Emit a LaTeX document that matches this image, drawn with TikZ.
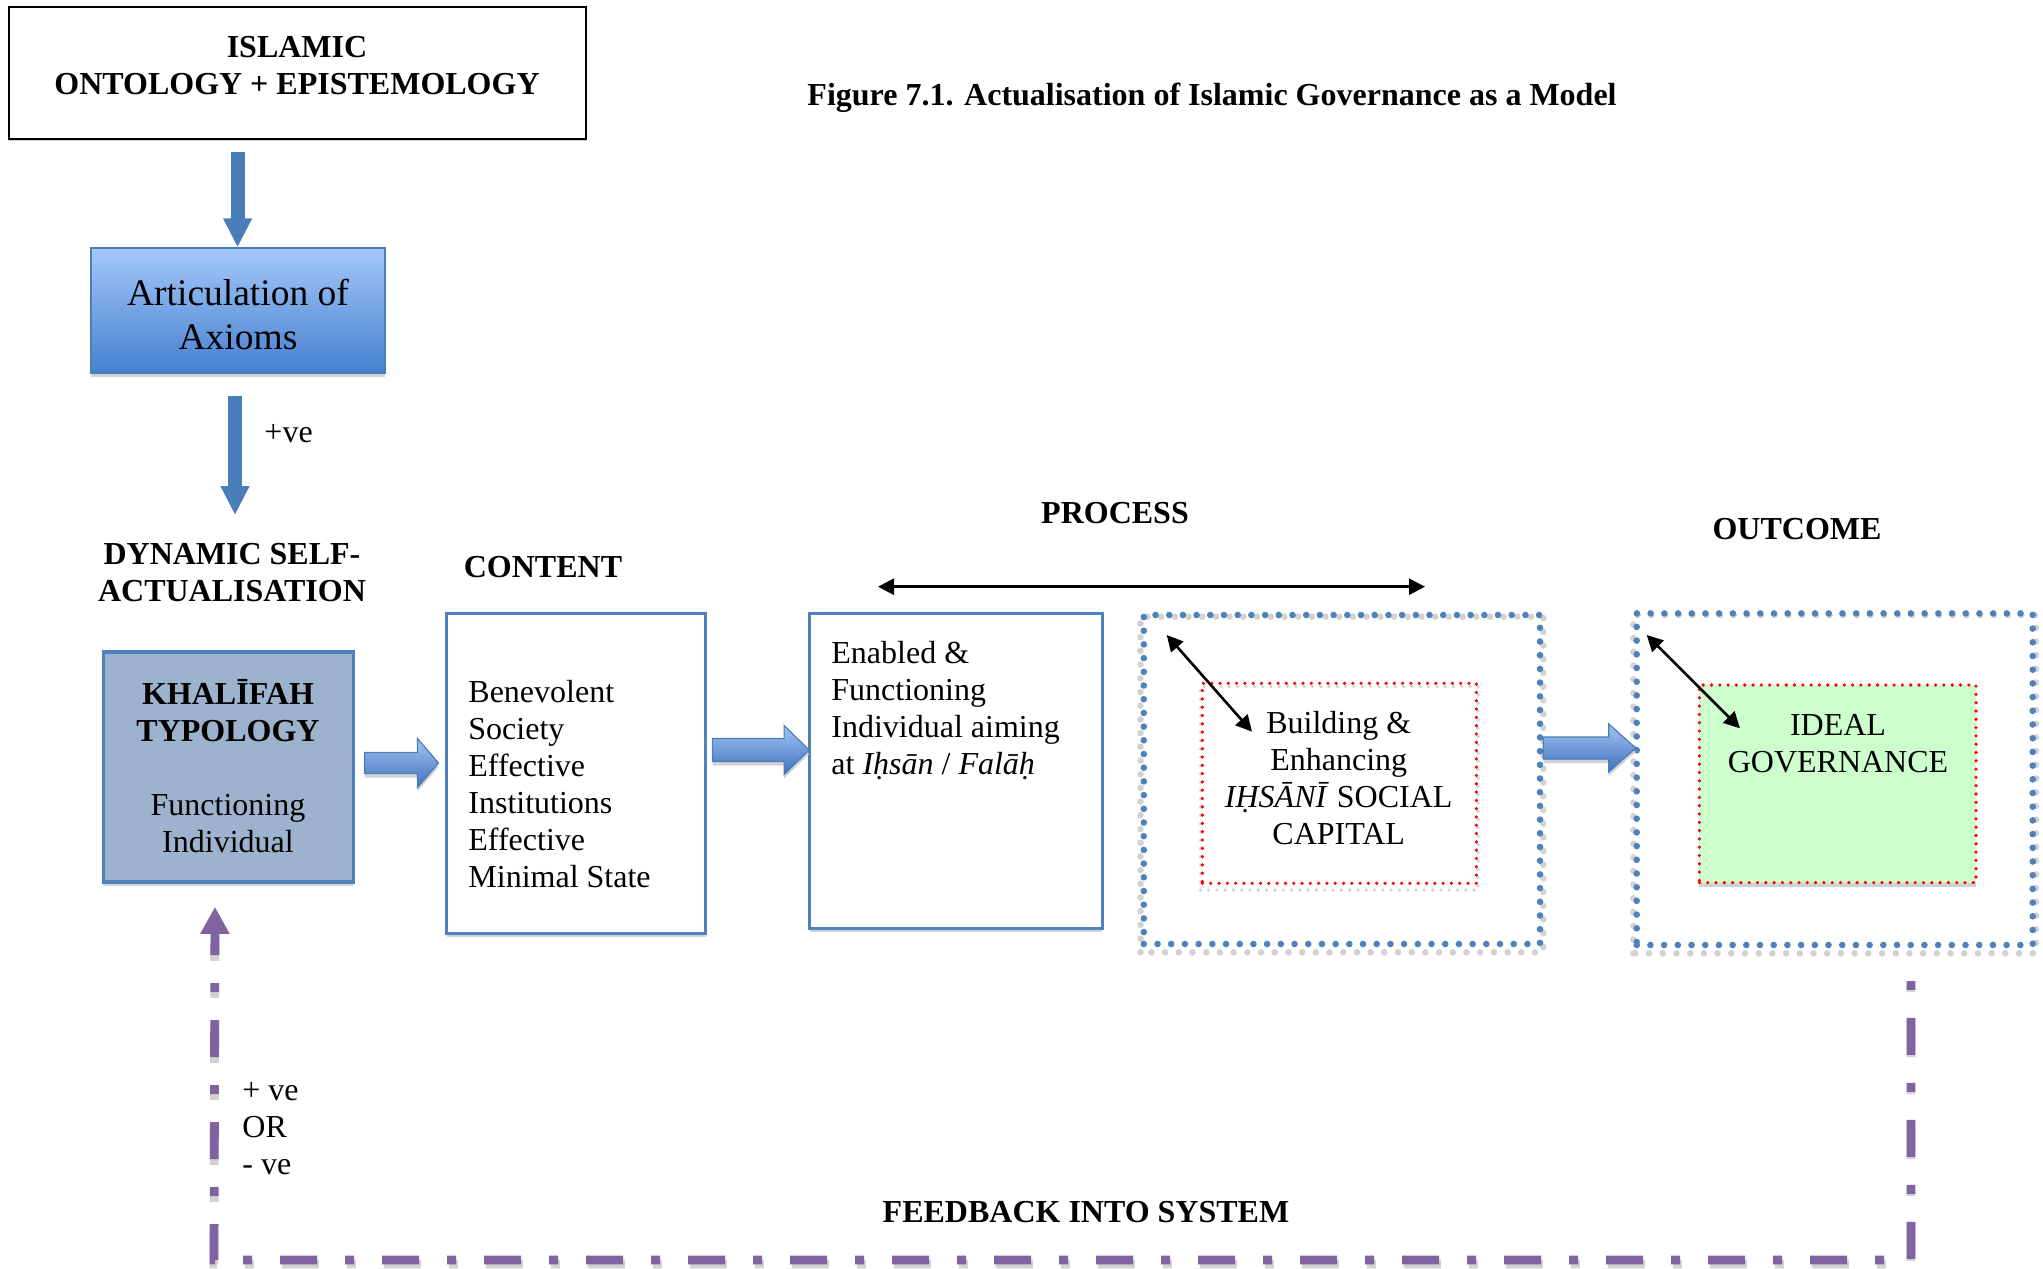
\documentclass[tikz,border=0pt]{standalone}
\usepackage{fontspec}
\setmainfont{Liberation Serif}
\usetikzlibrary{arrows.meta,calc,shadows,backgrounds}
\definecolor{obl}{HTML}{4F81BD}
\definecolor{abl}{HTML}{4A7EBB}
\definecolor{khf}{HTML}{9CB2CD}
\definecolor{pur}{HTML}{8064A2}
\definecolor{grn}{HTML}{CCFFCC}
\definecolor{shd}{HTML}{D2D2D2}
\definecolor{artT}{HTML}{A5C8FA}
\definecolor{artB}{HTML}{4480CE}
\definecolor{arrT}{HTML}{A3C4F0}
\definecolor{arrB}{HTML}{3F72C0}
\newcommand{\blockarrow}[5]{%
  \path[blockarr] ($(#1)+(0,-#3)$) -- ($(#2)+(-#5,-#3)$) -- ($(#2)+(-#5,-#4)$) -- (#2) -- ($(#2)+(-#5,#4)$) -- ($(#2)+(-#5,#3)$) -- ($(#1)+(0,#3)$) -- cycle;}
\begin{document}
\begin{tikzpicture}[x=0.5pt,y=-0.5pt,
  txt/.style={inner sep=0pt, align=center, font={\fontsize{16}{18.5}\selectfont}},
  hd/.style={inner sep=0pt, align=center, font={\fontsize{16}{18.5}\selectfont\bfseries}},
  shadowed/.style={drop shadow={shadow xshift=0pt, shadow yshift=-2pt, opacity=1, fill=shd}},
  sbox/.style={draw=obl, line width=1.5pt, fill=white, inner sep=0pt, shadowed},
  dotbox/.style={draw=obl, line width=3.3pt, line cap=round, dash pattern=on 0pt off 6.85pt, inner sep=0pt},
  dotshd/.style={draw=shd, line width=3.3pt, line cap=round, dash pattern=on 0pt off 6.85pt},
  reddot/.style={draw=red, line width=1.8pt, line cap=round, dash pattern=on 0pt off 4.15pt, inner sep=0pt},
  redshd/.style={draw=shd, line width=1.8pt, line cap=round, dash pattern=on 0pt off 4.15pt},
  vline/.style={draw=abl, line width=7pt, -{Triangle[width=13.5pt,length=14.5pt]}},
  blockarr/.style={draw=abl, line width=0.6pt, top color=arrT, bottom color=arrB, shadowed},
  dbl/.style={line width=1.3pt, {Triangle[width=8pt,length=8pt]}-{Triangle[width=8pt,length=8pt]}},
  fbpat/.style={line width=4.4pt, dash pattern=on 18.5pt off 14pt on 4.5pt off 14pt, dash phase=7pt},
  fb/.style={draw=pur, fbpat, {Triangle[width=13.75pt,length=13.5pt]}-},
]
\useasboundingbox (0,0) rectangle (2043,1268);

% title
\node[hd] (title) at (1212,97.7) {Figure 7.1. Actualisation of Islamic Governance as a Model};

% top box
\node[draw=black, line width=1pt, fill=white, minimum width=288.5pt, minimum height=66.3pt, inner sep=0pt, drop shadow={shadow xshift=0pt, shadow yshift=-1pt, opacity=1, fill=shd}] (onto) at (297,73) {};
\node[hd] (ontot) at (297,66) {ISLAMIC\\ONTOLOGY + EPISTEMOLOGY};

% articulation
\node[draw=abl, line width=1pt, top color=artT, bottom color=artB, minimum width=147pt, minimum height=62.5pt, inner sep=0pt, shadowed] (art) at (237.6,310.8) {};
\node[inner sep=0pt, align=center, font={\fontsize{18.75}{22}\selectfont}] (artt) at (238,314) {Articulation of\\Axioms};

\draw[vline] ($(art.north |- onto.south)+(0,11.4)$) -- (art.north);
\coordinate (a2e) at (235,515);
\draw[vline] ($(art.south)+(-2.6,22)$) -- (a2e);
\node[txt] (pve) at (288.6,434) {+ve};

% dynamic self-actualisation
\node[hd] (dyn) at (232,573) {DYNAMIC SELF-\\ACTUALISATION};
\node[sbox, fill=khf, line width=1.8pt, minimum width=125pt, minimum height=115pt] (kh) at (228.4,766.7) {};
\node[txt] (kht) at (228,766.5) {\textbf{KHALĪFAH}\\\textbf{TYPOLOGY}\\[18.5pt]Functioning\\Individual};

% content
\node[hd] (contl) at (543,566.7) {CONTENT};
\node[sbox, minimum width=129.5pt, minimum height=160pt] (cont) at (576.2,773) {};
\node[txt, align=left, anchor=west] (contt) at (468,784) {Benevolent\\Society\\Effective\\Institutions\\Effective\\Minimal State};

% enabled
\node[sbox, minimum width=146.4pt, minimum height=157.5pt] (enab) at (956,770.8) {};
\node[txt, align=left, anchor=west] (enabt) at (831,711) {Enabled \&\\Functioning\\Individual aiming\\at \textit{Iḥsān} / \textit{Falāḥ}};

% process
\node[hd] (proc) at (1115,513) {PROCESS};
\coordinate (pa) at (878,586.7);
\coordinate (pb) at (1425,586.7);
\draw[dbl] (pa) -- (pb);

\node[dotbox, minimum width=198.1pt, minimum height=164.5pt] (out1) at (1341.9,779.5) {};
\node[reddot, minimum width=137pt, minimum height=100pt] (in1) at (1339.4,783.3) {};
\node[txt] (in1t) at (1338.7,778) {Building \&\\Enhancing\\\textit{IḤSĀNĪ} SOCIAL\\CAPITAL};
\coordinate (d1a) at (1166.7,635);
\coordinate (d1b) at (1252,731.7);
\draw[dbl] (d1a) -- (d1b);

% outcome
\node[hd] (outc) at (1797,529) {OUTCOME};
\node[dotbox, minimum width=198pt, minimum height=165.8pt] (out2) at (1834.7,779.2) {};
\node[reddot, fill=grn, minimum width=138.3pt, minimum height=98.8pt, shadowed] (in2) at (1837.7,783.8) {};
\node[txt] (in2t) at (1838,744) {IDEAL\\GOVERNANCE};
\coordinate (d2a) at (1646.7,635);
\coordinate (d2b) at (1740,728.3);
\draw[dbl] (d2a) -- (d2b);

% block arrows
\coordinate (b1s) at ($(kh.east)+(9.5,-3.7)$);
\coordinate (b1e) at ($(cont.west |- b1s)+(-6.7,0)$);
\blockarrow{b1s}{b1e}{10.5}{24.5}{21}
\coordinate (b2s) at ($(cont.east)+(5.3,-23)$);
\coordinate (b2e) at ($(enab.west |- b2s)+(1,0)$);
\blockarrow{b2s}{b2e}{11.5}{24.5}{25}
\coordinate (b3s) at ($(out1.east)+(0,-31.5)$);
\coordinate (b3e) at ($(out2.west |- b3s)+(2.3,0)$);
\blockarrow{b3s}{b3e}{11}{24}{27}

% feedback
\coordinate (fbtip) at ($(kh.south)+(-13.4,23.3)$);
\coordinate (fbBL) at (214,1260);
\coordinate (fbBR) at (1911,1260);
\coordinate (fbR) at (1911,981);
\draw[fb] (fbtip) -- (fbBL) -- (fbBR) -- (fbR);
\node[txt, align=left, anchor=west] (fbt) at (242,1129) {+ ve\\OR\\- ve};
\node[hd] (fbl) at (1086,1212) {FEEDBACK INTO SYSTEM};

% shadows
\begin{scope}[on background layer]
  \draw[dotshd] ([yshift=-2.5pt]out1.south west) rectangle ([yshift=-2.5pt]out1.north east);
  \draw[dotshd] ([yshift=-2.5pt]out2.south west) rectangle ([yshift=-2.5pt]out2.north east);
  \draw[redshd] ([yshift=-2.5pt]in1.south west) rectangle ([yshift=-2.5pt]in1.north east);
  \draw[draw=shd, fbpat, shorten <=13.5pt, transform canvas={yshift=-2pt}] (fbtip) -- (fbBL) -- (fbBR) -- (fbR);
\end{scope}
\end{tikzpicture}
\end{document}
